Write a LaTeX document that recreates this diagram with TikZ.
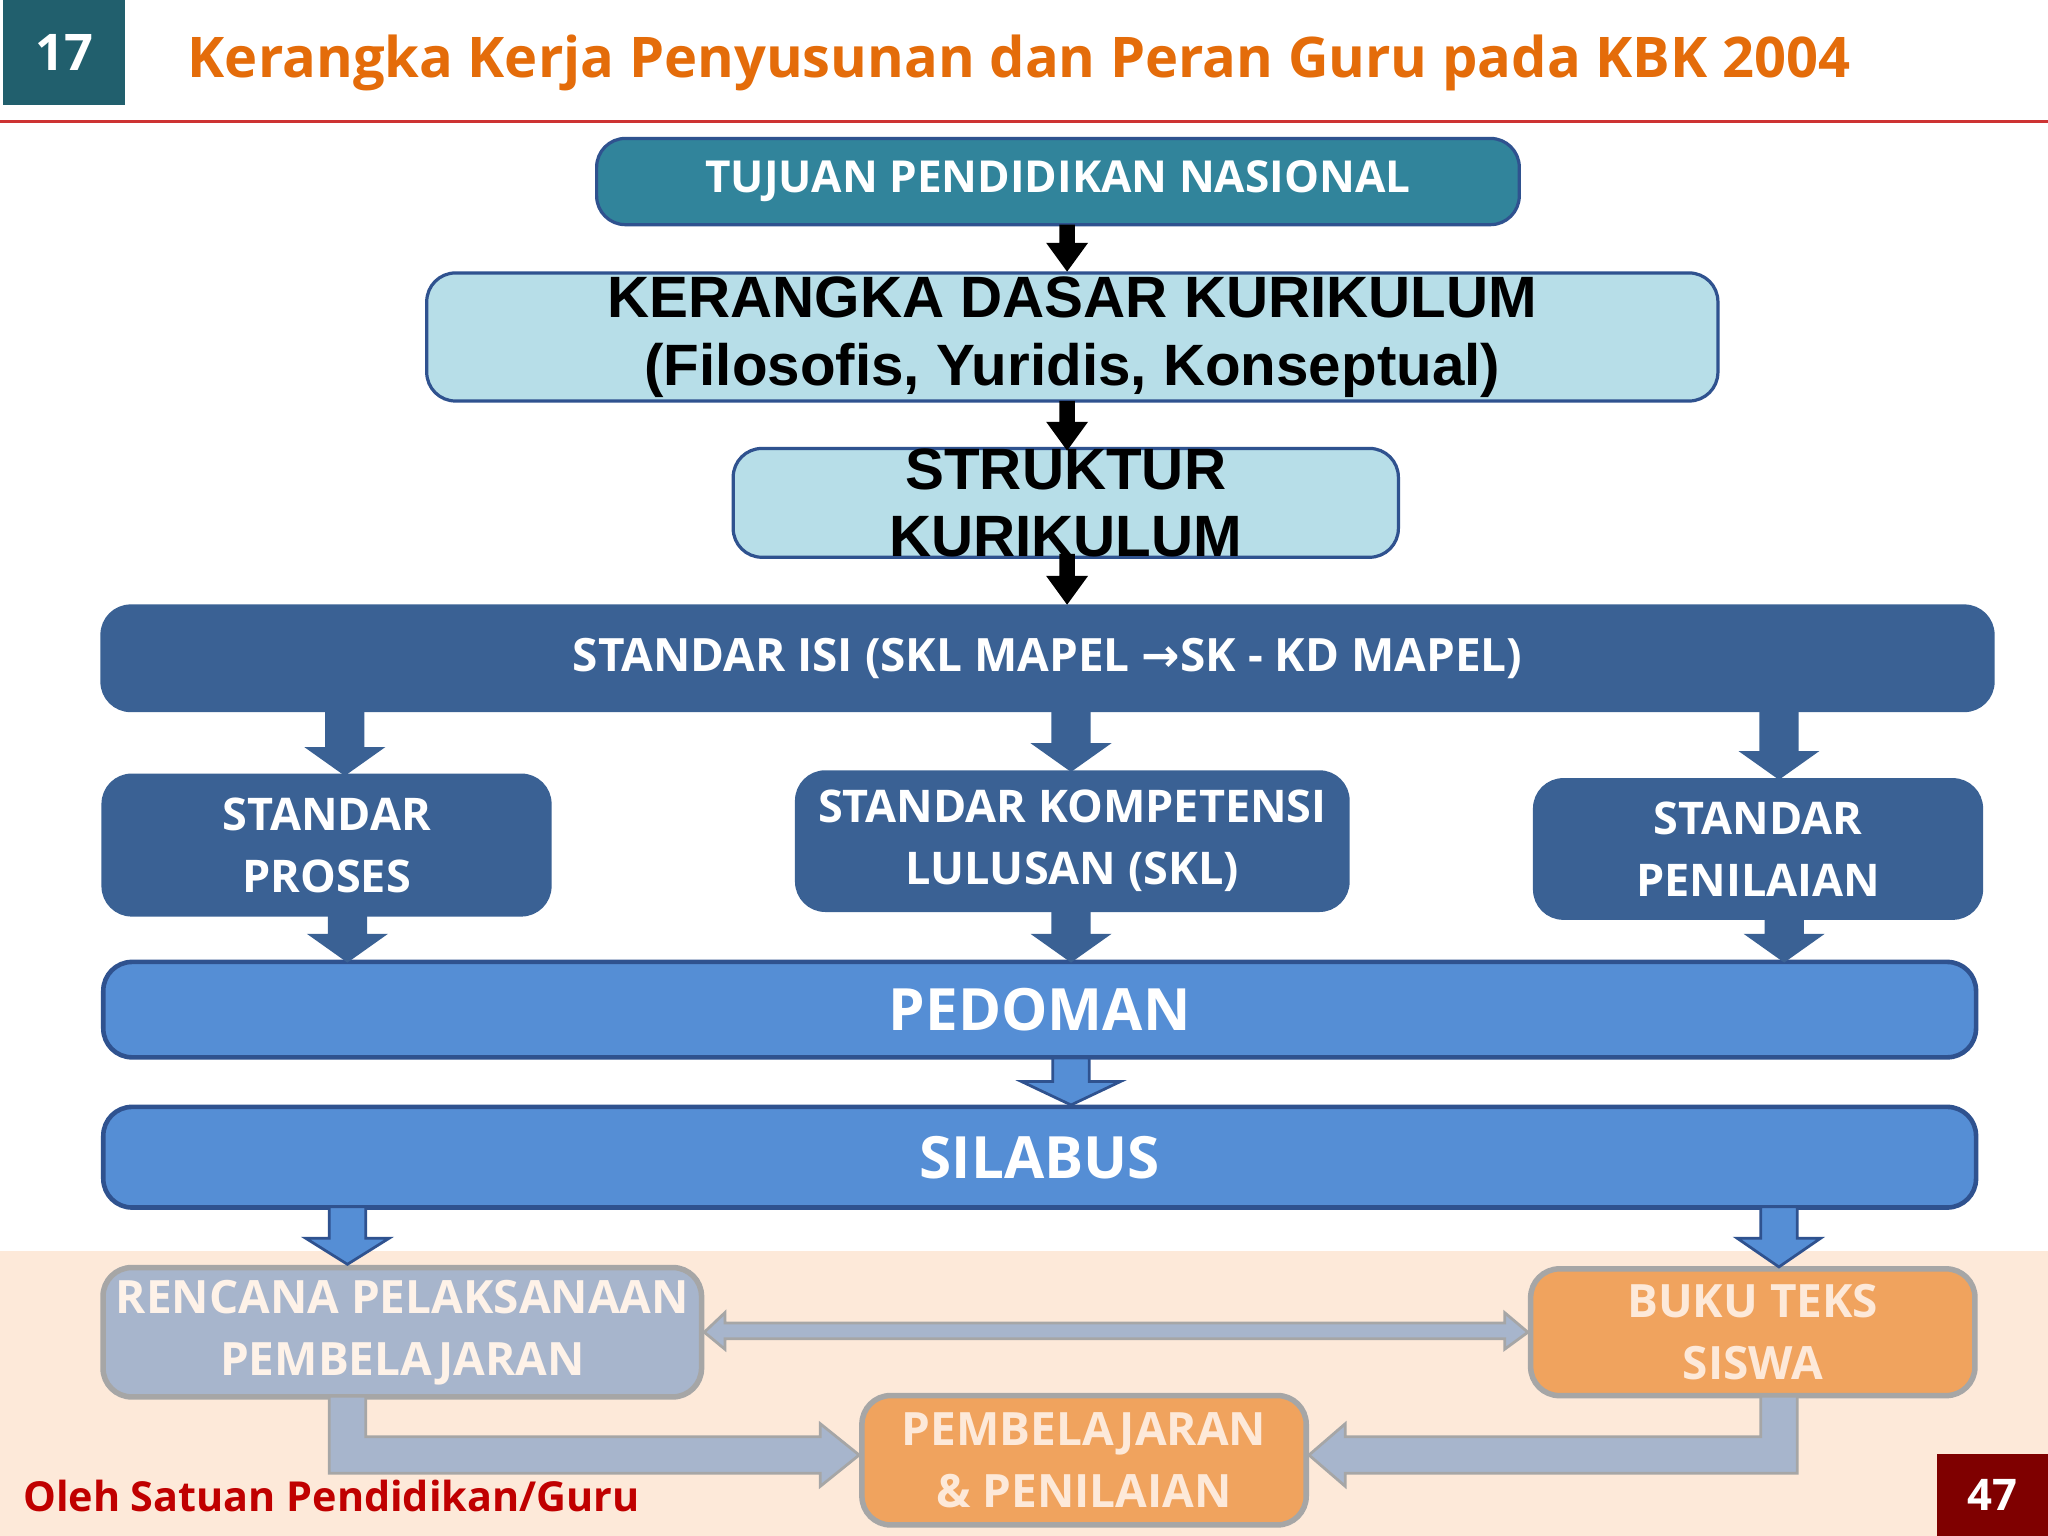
\documentclass[tikz,border=0pt]{standalone}
\usepackage{fontspec}
\setmainfont{Open Sans}
\newfontfamily\arial{Liberation Sans}
\newfontfamily\dv{DejaVu Sans}
\definecolor{teal1}{HTML}{31849B}
\definecolor{tealbox}{HTML}{215F6D}
\definecolor{light}{HTML}{B7DEE8}
\definecolor{dblue}{HTML}{3A6194}
\definecolor{mblue}{HTML}{558ED5}
\definecolor{bord}{HTML}{2F528F}
\definecolor{orng}{HTML}{E46C0A}
\definecolor{peach}{HTML}{FDE9D9}
\definecolor{grayb}{HTML}{A7B5CC}
\definecolor{orbox}{HTML}{F0A35E}
\definecolor{grayl}{HTML}{A6A6A6}
\definecolor{footred}{HTML}{C00000}
\definecolor{dred}{HTML}{7F0000}
\tikzset{
 bx/.style={rounded corners=2.2mm, line width=0.7pt, align=center, inner sep=0pt},
 wt/.style={text=white, font=\bfseries},
}
\newcommand{\blockarr}[6]{% x, y1, y2, shaft halfwidth, head halfwidth, style
 \fill[#6] ({#1-#4},#2) -- ({#1+#4},#2) -- ({#1+#4},{#3-22}) -- ({#1+#5},{#3-22}) -- (#1,#3) -- ({#1-#5},{#3-22}) -- ({#1-#4},{#3-22}) -- cycle;}
\begin{document}
\begin{tikzpicture}[x=0.01cm,y=-0.01cm]
\useasboundingbox (0,0) rectangle (1568,1176);
\fill[white] (0,0) rectangle (1568,1176);
\fill[peach] (0,958) rectangle (1568,1176);
% header
\node[fill=tealbox, minimum width=0.94cm, minimum height=0.80cm, inner sep=0pt, text=white, font=\fontsize{11}{13}\selectfont\bfseries] (num) at (49,40) {17};
\node[anchor=west, text=orng, font=\fontsize{12.2}{14}\selectfont\bfseries, inner sep=0pt] (title) at (143,48) {Kerangka Kerja Penyusunan dan Peran Guru pada KBK 2004};
\draw[footred!80, line width=0.5pt] (0,93) -- (1568,93);
% boxes
\node[bx, fill=teal1, draw=bord, minimum width=7.06cm, minimum height=0.66cm, wt, font=\fontsize{9.6}{11}\selectfont\bfseries] (tujuan) at (810,139) {TUJUAN PENDIDIKAN NASIONAL};
\node[bx, fill=light, draw=bord, minimum width=9.88cm, minimum height=0.98cm, font=\arial\fontsize{12.7}{14.7}\selectfont\bfseries] (kdk) at (821,258) {KERANGKA DASAR KURIKULUM\\(Filosofis, Yuridis, Konseptual)};
\node[bx, fill=light, draw=bord, minimum width=5.09cm, minimum height=0.79cm, font=\arial\fontsize{12.7}{14.7}\selectfont\bfseries] (struk) at (816,385) {STRUKTUR\\KURIKULUM};
\node[bx, fill=dblue, draw=dblue, minimum width=14.47cm, minimum height=0.80cm, wt, font=\fontsize{10}{12}\selectfont\bfseries] (isi) at (802,504) {STANDAR ISI (SKL MAPEL {\dv\bfseries →}SK - KD MAPEL)};
\node[bx, fill=dblue, draw=dblue, minimum width=3.42cm, minimum height=1.07cm, wt, font=\fontsize{9.8}{13.5}\selectfont\bfseries] (proses) at (250,647) {STANDAR\\PROSES};
\node[bx, fill=dblue, draw=dblue, minimum width=4.22cm, minimum height=1.06cm, wt, font=\fontsize{9.8}{13.5}\selectfont\bfseries] (skl) at (821,644) {STANDAR KOMPETENSI\\LULUSAN (SKL)};
\node[bx, fill=dblue, draw=dblue, minimum width=3.42cm, minimum height=1.06cm, wt, font=\fontsize{9.8}{13.5}\selectfont\bfseries] (pen) at (1346,650) {STANDAR\\PENILAIAN};
\node[bx, fill=mblue, draw=bord, line width=1pt, minimum width=14.33cm, minimum height=0.73cm, wt, font=\fontsize{12.7}{14}\selectfont\bfseries] (ped) at (796,773) {PEDOMAN};
\node[bx, fill=mblue, draw=bord, line width=1pt, minimum width=14.33cm, minimum height=0.77cm, wt, font=\fontsize{12.7}{14}\selectfont\bfseries] (sil) at (796,886) {SILABUS};
\node[bx, fill=grayb, draw=grayl, line width=1.2pt, minimum width=4.58cm, minimum height=0.99cm, text=peach!60!white, font=\fontsize{10}{13.5}\selectfont\bfseries] (rpp) at (308,1020) {RENCANA PELAKSANAAN\\PEMBELAJARAN};
\node[bx, fill=orbox, draw=grayl, line width=1.2pt, minimum width=3.40cm, minimum height=0.97cm, text=peach, font=\fontsize{10}{13.5}\selectfont\bfseries] (buku) at (1342,1020) {BUKU TEKS\\SISWA};
\node[bx, fill=orbox, draw=grayl, line width=1.2pt, minimum width=3.40cm, minimum height=0.99cm, text=peach, font=\fontsize{10}{13.5}\selectfont\bfseries] (pemb) at (830,1118) {PEMBELAJARAN\\\& PENILAIAN};
% black arrows
\blockarr{817}{172}{208}{6}{16}{black}
\blockarr{817}{307}{345}{6}{16}{black}
\blockarr{817}{424}{463}{6}{16}{black}
% dark blue arrows
\blockarr{264}{544}{594}{15}{31}{dblue}
\blockarr{820}{544}{591}{15}{31}{dblue}
\blockarr{1362}{544}{597}{15}{31}{dblue}
\blockarr{266}{701}{737}{15}{31}{dblue}
\blockarr{820}{697}{737}{15}{31}{dblue}
\blockarr{1366}{703}{737}{15}{31}{dblue}
% medium arrows
\begin{scope}
\filldraw[fill=mblue, draw=bord, line width=0.6pt] (806,810) -- (834,810) -- (834,828) -- (858,828) -- (820,846) -- (782,828) -- (806,828) -- cycle;
\filldraw[fill=mblue, draw=bord, line width=0.6pt] (252,924) -- (280,924) -- (280,948) -- (298,948) -- (266,968) -- (234,948) -- (252,948) -- cycle;
\filldraw[fill=mblue, draw=bord, line width=0.6pt] (1348,924) -- (1376,924) -- (1376,948) -- (1394,948) -- (1362,970) -- (1330,948) -- (1348,948) -- cycle;
\end{scope}
% gray double arrow
\filldraw[fill=grayb, draw=grayl, line width=0.6pt] (rpp.east) ++(0,0) -- (555,1005) -- (555,1013) -- (1152,1013) -- (1152,1005) -- (buku.west) -- (1152,1033) -- (1152,1025) -- (555,1025) -- (555,1033) -- cycle;
% elbow arrows
\filldraw[fill=grayb, draw=grayl, line width=0.6pt] (252,1069) -- (280,1069) -- (280,1100) -- (628,1100) -- (628,1090) -- (pemb.west |- 0,1114) -- (628,1138) -- (628,1128) -- (252,1128) -- cycle;
\filldraw[fill=grayb, draw=grayl, line width=0.6pt] (1376,1069) -- (1348,1069) -- (1348,1100) -- (1030,1100) -- (1030,1090) -- (pemb.east |- 0,1114) -- (1030,1138) -- (1030,1128) -- (1376,1128) -- cycle;
% footer
\node[anchor=west, text=footred, font=\fontsize{9}{11}\selectfont\bfseries, inner sep=0pt] (foot) at (17,1145) {Oleh Satuan Pendidikan/Guru};
\node[fill=dred, minimum width=0.85cm, minimum height=0.63cm, inner sep=0pt, text=white, font=\fontsize{9.5}{11}\selectfont\bfseries] (pg) at (1525.5,1144.5) {47};
\end{tikzpicture}
\end{document}
